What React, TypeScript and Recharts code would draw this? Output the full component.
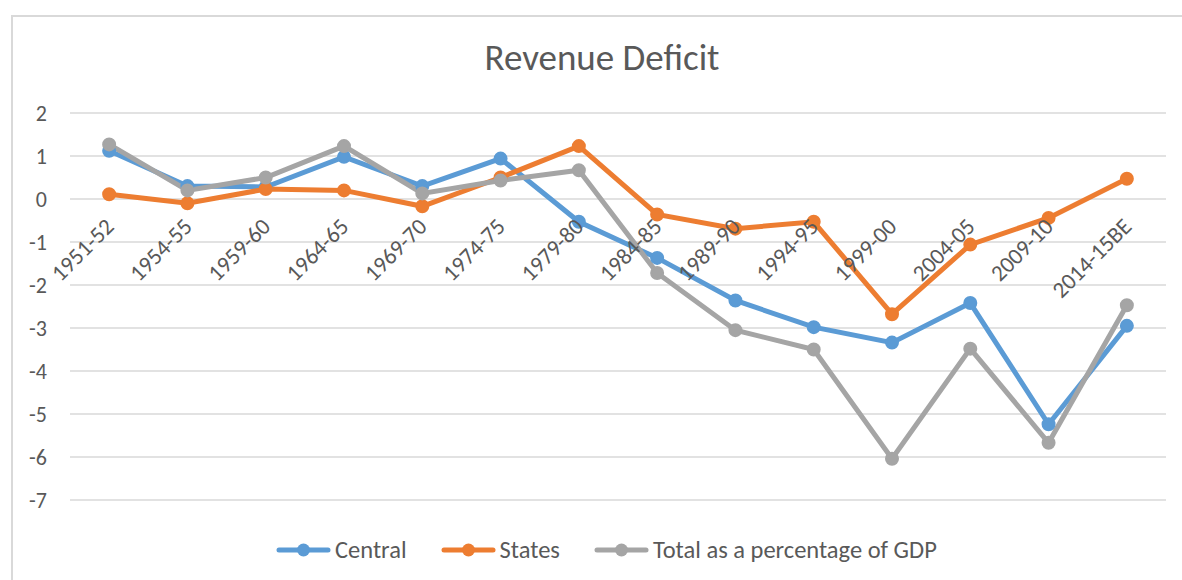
import React from 'react'
import { LineChart, Line, XAxis, YAxis, CartesianGrid, Legend } from 'recharts'

const categories = ['1951-52', '1954-55', '1959-60', '1964-65', '1969-70', '1974-75', '1979-80', '1984-85', '1989-90', '1994-95', '1999-00', '2004-05', '2009-10', '2014-15BE']
const central = [1.12, 0.3, 0.28, 0.98, 0.3, 0.94, -0.53, -1.37, -2.36, -2.98, -3.34, -2.42, -5.24, -2.95]
const states = [0.11, -0.1, 0.23, 0.2, -0.17, 0.5, 1.23, -0.36, -0.69, -0.53, -2.68, -1.06, -0.44, 0.47]
const total = [1.27, 0.2, 0.5, 1.23, 0.13, 0.43, 0.67, -1.72, -3.05, -3.5, -6.04, -3.48, -5.67, -2.47]
const yTicks = [2, 1, 0, -1, -2, -3, -4, -5, -6, -7]

const seriesNames = ['Central', 'States', 'Total as a percentage of GDP']
const colors = ['#5B9BD5', '#ED7D31', '#A5A5A5']

const data = categories.map((cat, i) => ({
    cat,
    central: central[i],
    states: states[i],
    total: total[i],
}))

const W = 1182
const H = 580
const TOP = 113
const BOTTOM = 80
const LEFT = 70
const RIGHT = 16
const Y_MAX = 2
const Y_MIN = -7
const FONT = 'Carlito, Lato, "Open Sans", sans-serif'
const TEXT = '#595959'

const zeroY = TOP + ((Y_MAX - 0) / (Y_MAX - Y_MIN)) * (H - TOP - BOTTOM)

function CategoryTick(props: any) {
    const { x, payload } = props
    const tx = x + 6
    const ty = zeroY + 29
    return (
        <text
            x={tx}
            y={ty}
            textAnchor="end"
            fill={TEXT}
            fontSize={23}
            fontFamily={FONT}
            transform={`rotate(-45 ${tx} ${ty})`}
        >
            {payload.value}
        </text>
    )
}

function ValueTick(props: any) {
    const { x, y, payload } = props
    return (
        <text x={x} y={y} dy={8} textAnchor="end" fill={TEXT} fontSize={22} fontFamily={FONT}>
            {payload.value}
        </text>
    )
}

function LegendContent() {
    return (
        <div style={{ display: 'flex', alignItems: 'center', fontFamily: FONT, fontSize: 24.5, color: TEXT, whiteSpace: 'nowrap' }}>
            {seriesNames.map((name, i) => (
                <div key={name} style={{ display: 'flex', alignItems: 'center', marginRight: 34 }}>
                    <svg width={55} height={16} style={{ marginRight: 4 }}>
                        <line x1={3} y1={8} x2={52} y2={8} stroke={colors[i]} strokeWidth={5} strokeLinecap="round" />
                        <circle cx={27.5} cy={8} r={6.5} fill={colors[i]} />
                    </svg>
                    <span>{name}</span>
                </div>
            ))}
        </div>
    )
}

export default function App() {
    return (
        <div style={{ position: 'absolute', left: 0, top: 0, width: W, height: H, background: '#fff', overflow: 'hidden' }}>
            <div
                style={{
                    position: 'absolute',
                    left: 11,
                    top: 15,
                    width: W,
                    height: H,
                    borderLeft: '2px solid #D9D9D9',
                    borderTop: '2px solid #D9D9D9',
                }}
            />
            <svg width={W} height={100} style={{ position: 'absolute', left: 0, top: 0 }}>
                <text x={602} y={70} textAnchor="middle" fontFamily={FONT} fontSize={37} fill={TEXT}>
                    Revenue Deficit
                </text>
            </svg>
            <LineChart
                width={W}
                height={H}
                data={data}
                margin={{ top: TOP, right: RIGHT, bottom: 0, left: 0 }}
                style={{ position: 'absolute', left: 0, top: 0 }}
            >
                <CartesianGrid horizontal vertical={false} stroke="#D9D9D9" strokeWidth={1.3} />
                <XAxis
                    dataKey="cat"
                    scale="band"
                    axisLine={false}
                    tickLine={false}
                    height={BOTTOM}
                    interval={0}
                    tick={<CategoryTick />}
                />
                <YAxis
                    domain={[Y_MIN, Y_MAX]}
                    ticks={yTicks}
                    width={LEFT}
                    axisLine={false}
                    tickLine={false}
                    tickSize={0}
                    tickMargin={23}
                    tick={<ValueTick />}
                />
                <Legend
                    verticalAlign="middle"
                    layout="horizontal"
                    content={<LegendContent />}
                    wrapperStyle={{ top: 535, left: 276, width: 'auto' }}
                />
                <Line
                    dataKey="central"
                    name={seriesNames[0]}
                    stroke={colors[0]}
                    strokeWidth={5}
                    dot={{ r: 6, fill: colors[0], stroke: colors[0], strokeWidth: 2 }}
                    isAnimationActive={false}
                />
                <Line
                    dataKey="states"
                    name={seriesNames[1]}
                    stroke={colors[1]}
                    strokeWidth={5}
                    dot={{ r: 6, fill: colors[1], stroke: colors[1], strokeWidth: 2 }}
                    isAnimationActive={false}
                />
                <Line
                    dataKey="total"
                    name={seriesNames[2]}
                    stroke={colors[2]}
                    strokeWidth={5}
                    dot={{ r: 6, fill: colors[2], stroke: colors[2], strokeWidth: 2 }}
                    isAnimationActive={false}
                />
            </LineChart>
        </div>
    )
}
